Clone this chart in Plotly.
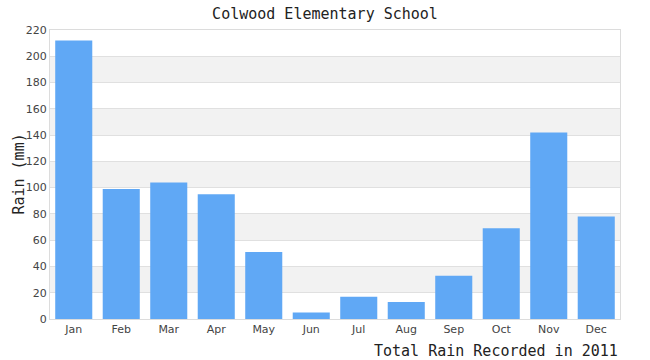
import plotly.graph_objects as go

months = ["Jan", "Feb", "Mar", "Apr", "May", "Jun", "Jul", "Aug", "Sep", "Oct", "Nov", "Dec"]
rain = [212, 99, 104, 95, 51, 5, 17, 13, 33, 69, 142, 78]
y_ticks = list(range(0, 221, 20))
bands = [(20, 40), (60, 80), (100, 120), (140, 160), (180, 200)]

mono = "DejaVu Sans Mono"

fig = go.Figure()
fig.add_trace(go.Bar(x=months, y=rain, marker=dict(color="#60a8f5", line=dict(width=0))))

for lo, hi in bands:
    fig.add_shape(type="rect", xref="paper", x0=0, x1=1, yref="y", y0=lo, y1=hi,
                  fillcolor="#f2f2f2", line=dict(width=0), layer="below")

fig.update_layout(
    width=650, height=360,
    margin=dict(l=50, r=30, t=30, b=41),
    paper_bgcolor="white", plot_bgcolor="white",
    bargap=0.22,
    showlegend=False,
    title=dict(text="Colwood Elementary School", x=0.5, xanchor="center", y=0.962, yanchor="middle",
               font=dict(family=mono, size=15, color="#222")),
    xaxis=dict(showgrid=False, showline=True, linecolor="#dcdcdc", mirror=True, ticks="",
               tickfont=dict(family="DejaVu Sans", size=11, color="#444")),
    yaxis=dict(range=[0, 220], tickvals=y_ticks, showgrid=True, gridcolor="#e0e0e0",
               showline=True, linecolor="#dcdcdc", mirror=True, ticks="", zeroline=False,
               tickfont=dict(family="DejaVu Sans", size=11, color="#444")),
)

fig.add_annotation(text="Rain (mm)", xref="paper", yref="paper",
                   x=-0.056, y=0.5, xanchor="center", yanchor="middle", textangle=-90,
                   showarrow=False, font=dict(family=mono, size=15, color="#222"))

fig.add_annotation(text="Total Rain Recorded in 2011", xref="paper", yref="paper",
                   x=1, y=-0.112, xanchor="right", yanchor="middle", showarrow=False,
                   font=dict(family=mono, size=15, color="#222"))

fig.write_html("out.html")
